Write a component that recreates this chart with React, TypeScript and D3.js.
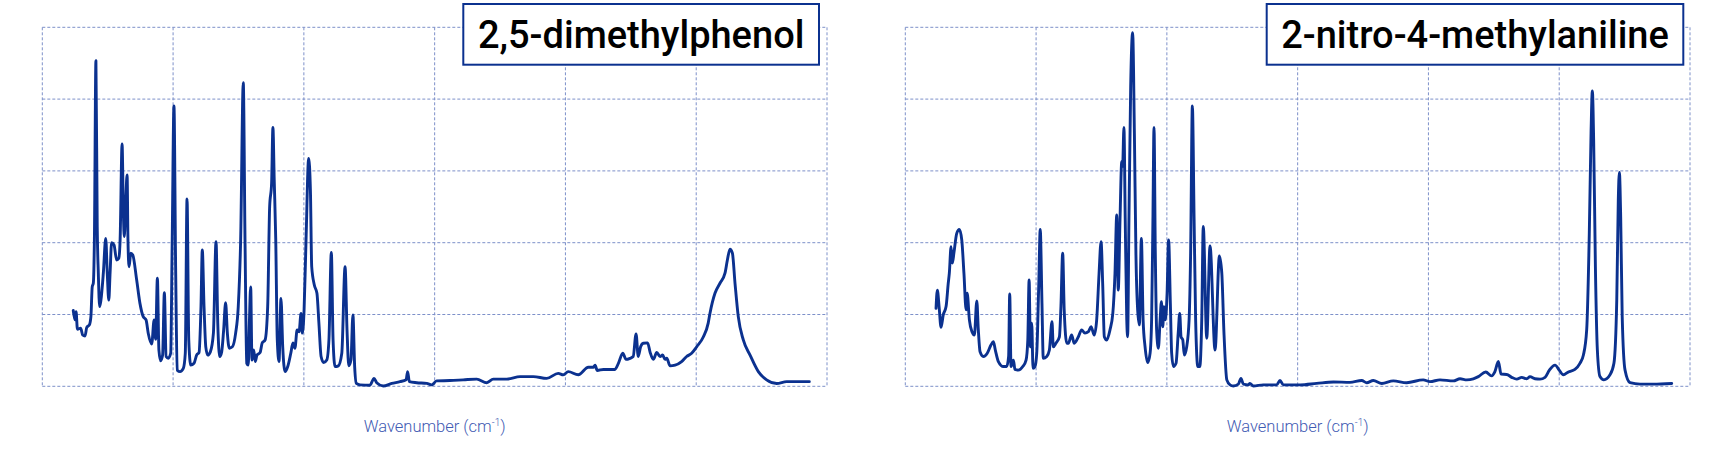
import React from "react";
import * as d3 from "d3";

const TITLES = ["2,5-dimethylphenol", "2-nitro-4-methylaniline"];
const X_LABEL = "Wavenumber (cm";
const X_TICKS = [0, 600, 1200, 1800, 2400, 3000, 3600];
const Y_TICKS = [0, 20, 40, 60, 80, 100];

const WN_A = [142,150,155,161,176,185,196,204,216,223,229,234,239,246,252,257,263,269,280,291,298,305,311,318,329,341,351,357,366,372,376,383,389,393,398,406,415,433,448,463,476,486,502,513,520,528,535,543,552,560,568,578,589,596,604,612,619,632,647,656,664,672,681,696,708,719,728,734,742,750,759,771,785,797,805,814,823,832,841,849,858,872,887,899,910,922,930,938,945,950,956,962,970,977,985,999,1009,1022,1034,1043,1052,1058,1064,1071,1078,1086,1095,1103,1114,1126,1140,1150,1159,1169,1178,1187,1193,1201,1210,1222,1230,1236,1248,1260,1269,1279,1291,1305,1315,1326,1334,1343,1358,1374,1389,1398,1406,1416,1425,1433,1441,1458,1503,1522,1534,1564,1603,1641,1669,1676,1684,1718,1764,1787,1809,1870,1931,1993,2039,2069,2131,2192,2253,2314,2367,2390,2413,2459,2505,2528,2536,2546,2574,2627,2643,2663,2678,2696,2711,2724,2734,2745,2757,2777,2788,2803,2819,2834,2846,2857,2865,2880,2903,2933,2956,2979,3002,3033,3055,3063,3086,3109,3132,3143,3155,3166,3178,3193,3216,3247,3285,3323,3369,3415,3519];
const INT_A = [21.1,18.5,20.8,15.9,16.2,14.3,14.0,16.4,17.1,19.4,27.7,28.7,40.8,90.7,44.5,31.5,22.2,24.0,31.5,41.2,31.5,24.0,31.6,40.0,39.4,35.2,35.7,40.8,67.5,48.2,41.7,51.9,58.9,40.8,33.3,37.1,36.6,29.6,23.1,19.4,18.5,14.8,11.8,18.5,13.1,30.1,10.1,7.1,8.7,26.1,8.3,7.8,9.2,40.8,78.1,31.5,4.5,4.1,5.0,9.2,52.2,12.9,5.9,6.4,8.7,9.4,22.2,38.0,22.2,11.0,8.7,9.6,14.8,40.3,17.6,8.3,9.6,15.7,23.3,14.8,10.6,11.0,14.8,22.2,40.8,84.6,40.8,6.4,5.9,17.6,27.7,7.3,10.1,6.9,8.7,9.4,12.1,12.9,22.2,50.0,56.6,72.1,57.5,40.8,12.9,6.9,24.5,11.0,4.1,5.5,9.2,12.1,10.6,15.7,15.2,20.3,14.8,21.3,40.8,63.5,54.7,33.3,28.2,25.9,17.6,8.3,6.6,7.3,12.9,37.3,12.9,5.5,5.7,9.2,33.3,15.7,5.7,7.3,19.9,5.5,0.8,0.4,0.3,2.2,1.0,0.1,0.8,1.3,1.8,4.1,1.3,1.0,0.8,0.4,1.5,1.6,1.8,2.0,1.0,2.0,2.0,2.7,2.7,2.2,3.6,3.2,4.1,3.2,5.3,5.3,5.9,4.4,4.7,4.7,6.4,9.2,7.5,7.8,8.3,14.6,8.3,11.0,12.0,12.1,9.6,7.5,9.4,8.3,8.7,7.5,7.8,5.7,5.9,6.9,8.3,9.2,11.0,13.8,17.6,20.3,25.9,28.7,31.5,35.2,38.2,37.1,28.7,19.4,12.9,8.7,4.1,1.8,0.8,1.3,1.3];

const WN_B = [141,147,155,164,174,187,197,202,210,216,223,236,248,259,269,279,284,294,306,317,328,335,343,358,376,393,404,413,427,450,465,474,479,485,496,503,518,539,554,562,568,574,580,586,595,603,612,619,627,633,649,661,673,679,691,707,714,722,729,741,748,763,775,794,809,824,840,852,867,878,889,898,906,913,924,939,952,962,970,977,985,993,997,1003,1009,1016,1020,1026,1034,1043,1051,1058,1066,1074,1083,1091,1100,1112,1123,1130,1136,1141,1147,1153,1161,1169,1175,1181,1187,1193,1201,1208,1216,1222,1230,1242,1252,1259,1265,1273,1280,1291,1302,1309,1317,1325,1332,1342,1351,1360,1367,1383,1398,1421,1441,1452,1462,1475,1490,1505,1528,1540,1551,1574,1581,1597,1642,1704,1719,1734,1811,1887,1964,2040,2094,2117,2147,2186,2239,2300,2376,2407,2453,2514,2545,2576,2606,2629,2663,2690,2705,2721,2733,2759,2782,2805,2828,2851,2866,2889,2912,2935,2955,2981,3000,3019,3042,3072,3095,3111,3126,3138,3146,3152,3158,3166,3175,3187,3205,3233,3251,3264,3271,3276,3282,3289,3302,3325,3371,3432,3516];
const INT_B = [21.7,26.8,22.2,16.4,19.9,22.2,28.7,31.5,38.9,34.3,37.1,42.6,43.7,40.8,31.5,21.3,25.9,18.5,15.2,14.3,23.8,15.7,9.6,8.3,9.2,11.5,12.4,10.1,6.9,5.5,5.5,8.3,25.7,5.5,7.3,4.7,4.5,5.5,7.3,12.9,29.6,11.0,17.6,5.0,5.5,9.2,27.7,43.7,23.1,7.8,8.3,10.1,18.0,11.0,12.0,13.8,22.2,37.1,21.3,12.0,12.0,14.3,12.0,13.8,15.7,14.8,15.2,16.6,14.3,18.5,31.5,40.3,27.7,13.8,12.9,15.7,20.3,31.5,47.7,26.8,46.3,62.6,61.2,72.1,46.3,18.5,13.8,46.3,83.5,98.5,70.5,37.1,21.3,17.1,41.2,18.5,11.0,6.6,9.2,18.5,46.3,72.1,37.1,15.7,10.6,18.5,23.6,16.6,22.2,18.5,25.9,40.8,23.1,9.2,5.5,6.4,14.8,20.3,13.8,12.9,8.7,11.0,18.5,37.1,78.1,46.3,18.5,5.5,5.5,18.5,44.5,13.4,39.1,10.1,36.3,31.5,14.8,1.8,0.4,0.1,0.6,2.2,0.6,0.4,0.8,0.1,0.4,0.4,1.6,0.4,0.4,0.8,1.2,1.1,1.6,1.0,1.6,0.8,1.5,1.0,1.8,1.3,1.8,1.5,2.1,1.8,2.1,2.7,4.0,2.9,4.1,6.9,3.4,3.3,2.5,2.0,2.5,2.1,2.7,2.1,2.0,2.5,4.5,5.9,4.5,3.2,4.0,4.7,6.4,8.7,15.7,42.6,70.5,82.3,68.6,33.3,10.1,2.7,1.8,3.2,6.4,24.0,51.9,59.6,47.2,19.4,4.5,1.0,0.6,0.6,0.8];

const LINE_COLOR = "#0b318f";
const GRID_COLOR = "#7d90c9";
const LABEL_COLOR = "#3f5bb3";

type PanelProps = {
  x0: number;
  x1: number;
  wn: number[];
  inten: number[];
  title: string;
  box: [number, number];
};

const TOP = 27.3;
const BOTTOM = 386.3;

function Panel({ x0, x1, wn, inten, title, box }: PanelProps) {
  const x = d3.scaleLinear().domain([0, 3600]).range([x0, x1]);
  const y = d3.scaleLinear().domain([0, 100]).range([BOTTOM, TOP]);
  const n = Math.min(wn.length, inten.length);
  const pts: [number, number][] = d3.range(n).map((i) => [wn[i], inten[i]]);
  const line = d3
    .line<[number, number]>()
    .x((d) => x(d[0]))
    .y((d) => y(d[1]))
    .curve(d3.curveMonotoneX);
  const cx = (x0 + x1) / 2;
  return (
    <g>
      {X_TICKS.map((t) => (
        <line
          key={"vx" + t}
          x1={x(t)}
          x2={x(t)}
          y1={TOP}
          y2={BOTTOM}
          stroke={GRID_COLOR}
          strokeWidth={1}
          strokeDasharray="3,2"
        />
      ))}
      {Y_TICKS.map((t) => (
        <line
          key={"hy" + t}
          x1={x0}
          x2={x1}
          y1={y(t)}
          y2={y(t)}
          stroke={GRID_COLOR}
          strokeWidth={1}
          strokeDasharray="3,2"
        />
      ))}
      <path
        d={line(pts) || ""}
        fill="none"
        stroke={LINE_COLOR}
        strokeWidth={2.9}
        strokeLinejoin="round"
        strokeLinecap="round"
      />
      <rect
        x={box[0]}
        y={4}
        width={box[1] - box[0]}
        height={60.7}
        fill="#ffffff"
        stroke={LINE_COLOR}
        strokeWidth={2}
      />
      <text
        x={(box[0] + box[1]) / 2}
        y={48.3}
        textAnchor="middle"
        fontFamily="Roboto, 'Noto Sans', sans-serif"
        fontWeight={500}
        fontSize={38}
        fill="#000000"
      >
        {title}
      </text>
      <text
        x={cx}
        y={432}
        textAnchor="middle"
        fontFamily="Roboto, 'Noto Sans', sans-serif"
        fontWeight={300}
        fontSize={16.5}
        fill={LABEL_COLOR}
      >
        {X_LABEL}
        <tspan fontSize={10} dy={-6}>
          -1
        </tspan>
        <tspan dy={6}>)</tspan>
      </text>
    </g>
  );
}

export default function App() {
  return (
    <div style={{ position: "absolute", left: 0, top: 0 }}>
      <svg width={1727} height={462} style={{ display: "block", background: "#ffffff" }}>
        <Panel x0={42.3} x1={827} wn={WN_A} inten={INT_A} title={TITLES[0]} box={[463.3, 819]} />
        <Panel x0={905.3} x1={1690} wn={WN_B} inten={INT_B} title={TITLES[1]} box={[1266.7, 1683.3]} />
      </svg>
    </div>
  );
}
